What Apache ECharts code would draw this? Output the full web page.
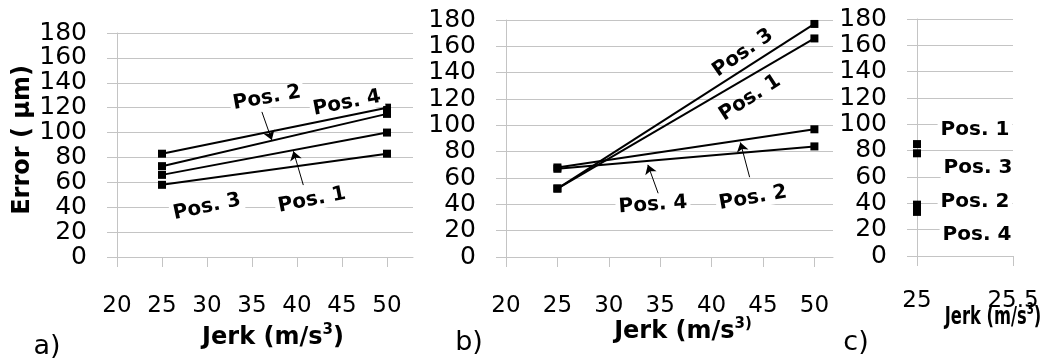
<!DOCTYPE html>
<html>
<head>
<meta charset="utf-8">
<script src="https://cdn.jsdelivr.net/npm/echarts@6/dist/echarts.min.js"></script>
<style>
  html, body { margin: 0; padding: 0; background: #fff; }
  #chart { width: 1043px; height: 363px; }
</style>
</head>
<body>
<div id="chart"></div>
<script>
// jerk values (m/s^3)
const jerk = [25, 50]
const jerkC = [25]
const jerkTicks = [20, 25, 30, 35, 40, 45, 50]
const jerkTicksC = [25, 25.5]

// a) error (um)
const a_pos1 = [66, 100]
const a_pos2 = [73, 115]
const a_pos3 = [58, 83]
const a_pos4 = [83, 120]

// b)
const b_pos1 = [52, 166]
const b_pos2 = [68, 97]
const b_pos3 = [52, 177]
const b_pos4 = [67, 84]

// c)
const c_pos1 = [85]
const c_pos2 = [39]
const c_pos3 = [78]
const c_pos4 = [33.5]

const FONT = 'DejaVu Sans'
const GRID_COLOR = '#c4c4c4'

const chart = echarts.init(document.getElementById('chart'))

const makeX = (gridIndex, min, max, ticks, margin, fmt) => ({
  type: 'value',
  gridIndex,
  min,
  max,
  axisLine: { show: true, onZero: false, lineStyle: { color: GRID_COLOR, width: 1 } },
  axisTick: { show: true, length: 10, customValues: ticks, lineStyle: { color: GRID_COLOR } },
  axisLabel: {
    customValues: ticks,
    fontSize: 23,
    fontFamily: FONT,
    color: '#000',
    margin,
    formatter: fmt || (v => String(v))
  },
  splitLine: { show: false }
})

const makeY = (gridIndex) => ({
  type: 'value',
  gridIndex,
  min: 0,
  max: 180,
  interval: 20,
  axisLine: { show: true, lineStyle: { color: GRID_COLOR, width: 1 } },
  axisTick: { show: true, length: 10, lineStyle: { color: GRID_COLOR } },
  axisLabel: { fontSize: 25, fontFamily: FONT, color: '#000', margin: 30 },
  splitLine: { show: true, lineStyle: { color: GRID_COLOR, width: 1 } }
})

const makeSeries = (name, xs, ys, idx, arrows) => {
  let s = {
    name,
    type: 'line',
    xAxisIndex: idx,
    yAxisIndex: idx,
    data: xs.map((x, i) => [x, ys[i]]),
    symbol: 'rect',
    symbolSize: 8,
    showSymbol: true,
    lineStyle: { color: '#000', width: 2 },
    itemStyle: { color: '#000' },
    animation: false,
    z: 5
  }
  if (arrows) {
    s.markLine = {
      silent: true,
      animation: false,
      symbol: ['none', 'arrow'],
      symbolSize: 9,
      label: { show: false },
      lineStyle: { color: '#000', width: 1, type: 'solid' },
      data: arrows.map(a => [{ coord: a[0] }, { coord: a[1] }])
    }
  }
  return s
}

const posLabel = (text, x, y, deg, bg) => ({
  type: 'text',
  x, y,
  rotation: deg * Math.PI / 180,
  z: 10,
  style: {
    text,
    font: `bold 20px "${FONT}"`,
    fill: '#000',
    align: 'center',
    verticalAlign: 'middle',
    backgroundColor: bg === false ? 'transparent' : '#fff',
    padding: [0, 3]
  }
})

// "Jerk (m/s3)" with superscript 3; b) has the ")" raised too
const jerkName = (x, y, supText, tail, sx) => ({
  type: 'text',
  x, y,
  scaleX: sx || 1,
  z: 10,
  style: {
    text: `{m|Jerk (m/s}{s|${supText}}` + (tail ? `{m|${tail}}` : ''),
    align: 'center',
    verticalAlign: 'middle',
    rich: {
      m: { font: `bold 24px "${FONT}"`, fill: '#000', lineHeight: 30 },
      s: { font: `bold 15px "${FONT}"`, fill: '#000', verticalAlign: 'top', lineHeight: 30 }
    }
  }
})

const panelTag = (text, x, y) => ({
  type: 'text',
  x, y,
  style: { text, font: `27px "${FONT}"`, fill: '#000', align: 'center', verticalAlign: 'middle' }
})

const option = {
  animation: false,
  backgroundColor: '#fff',
  grid: [
    { left: 117, top: 33, width: 296, height: 224 },
    { left: 506, top: 20, width: 327, height: 237 },
    { left: 917, top: 19, width: 96, height: 237 }
  ],
  xAxis: [
    makeX(0, 20, 20 + 296 / 9, jerkTicks, 38),
    makeX(1, 20, 20 + 327 / 10.28, jerkTicks, 38),
    makeX(2, 25, 25.5, jerkTicksC, 34, v => (v === 25 ? '25' : '25.5'))
  ],
  yAxis: [makeY(0), makeY(1), makeY(2)],
  series: [
    makeSeries('a Pos. 1', jerk, a_pos1, 0, [[[40.7, 57.8], [39.6, 85]]]),
    makeSeries('a Pos. 2', jerk, a_pos2, 0, [[[36.1, 116.6], [37.2, 94]]]),
    makeSeries('a Pos. 3', jerk, a_pos3, 0),
    makeSeries('a Pos. 4', jerk, a_pos4, 0),
    makeSeries('b Pos. 1', jerk, b_pos1, 1),
    makeSeries('b Pos. 2', jerk, b_pos2, 1, [[[43.7, 60.6], [42.8, 87]]]),
    makeSeries('b Pos. 3', jerk, b_pos3, 1),
    makeSeries('b Pos. 4', jerk, b_pos4, 1, [[[34.8, 48.4], [33.8, 70]]]),
    makeSeries('c Pos. 1', jerkC, c_pos1, 2),
    makeSeries('c Pos. 2', jerkC, c_pos2, 2),
    makeSeries('c Pos. 3', jerkC, c_pos3, 2),
    makeSeries('c Pos. 4', jerkC, c_pos4, 2)
  ],
  graphic: [
    {
      type: 'text',
      x: 23, y: 140,
      rotation: Math.PI / 2,
      style: { text: 'Error ( µm)', font: `bold 24px "${FONT}"`, fill: '#000', align: 'center', verticalAlign: 'middle' }
    },
    jerkName(273, 338, '3', ')'),
    jerkName(683, 332, '3)', ''),
    jerkName(993, 318, '3', ')', 0.68),
    panelTag('a)', 47, 347),
    panelTag('b)', 469, 343),
    panelTag('c)', 856, 343),
    // a)
    posLabel('Pos. 2', 267, 98, 10),
    posLabel('Pos. 4', 347, 103, 11),
    posLabel('Pos. 3', 207, 207, 12),
    posLabel('Pos. 1', 312, 200, 11),
    // b)
    posLabel('Pos. 3', 743, 53, 35, false),
    posLabel('Pos. 1', 750, 98, 33, false),
    posLabel('Pos. 4', 653, 205, 4),
    posLabel('Pos. 2', 753, 198, 10),
    // c)
    posLabel('Pos. 1', 975, 130, 0),
    posLabel('Pos. 3', 978, 168, 0),
    posLabel('Pos. 2', 975, 202, 0),
    posLabel('Pos. 4', 977, 235, 0)
  ]
}

chart.setOption(option)
</script>
</body>
</html>
